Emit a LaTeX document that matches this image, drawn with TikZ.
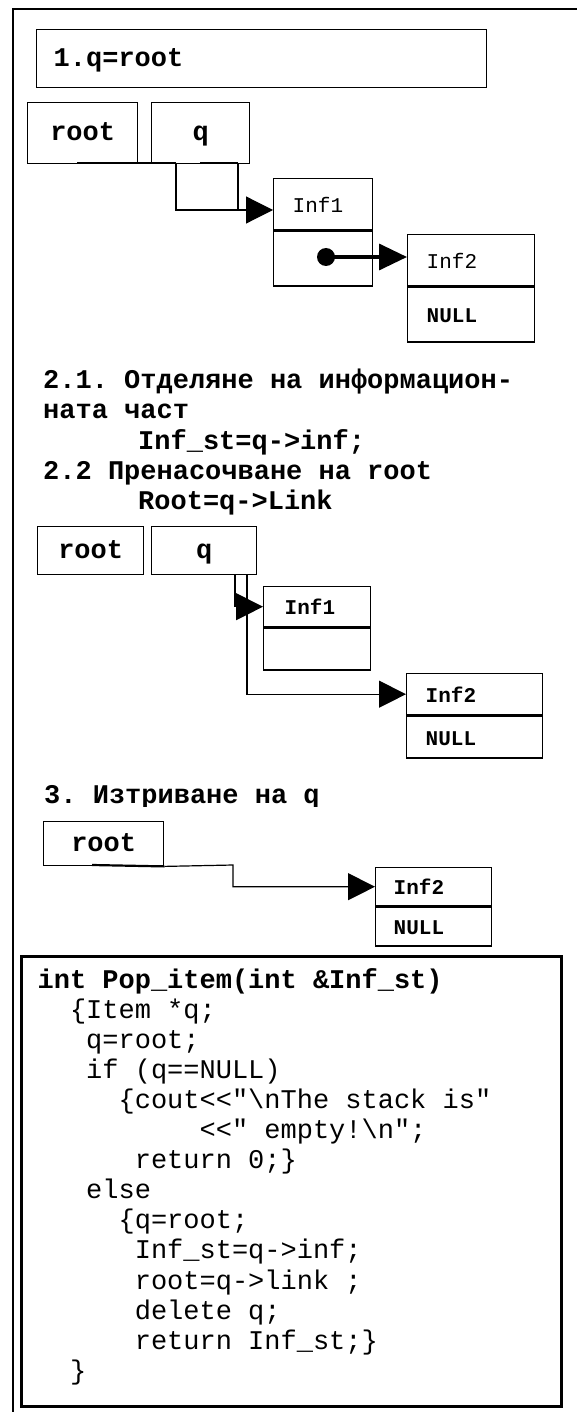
\documentclass[tikz,border=0pt]{standalone}
\usepackage{fontspec}
\setmonofont{Liberation Mono}
\usepackage{tikz}
\usetikzlibrary{arrows.meta,calc}

\newcommand{\codebf}{\ttfamily\bfseries\fontsize{27}{30}\selectfont}
\newcommand{\coderm}{\ttfamily\mdseries\fontsize{27}{30}\selectfont}
\newcommand{\cellbf}{\ttfamily\bfseries\fontsize{21}{24}\selectfont}
\newcommand{\cellrm}{\ttfamily\mdseries\fontsize{21}{24}\selectfont}

\tikzset{
  box/.style={draw, line width=1.4pt, anchor=north west, inner sep=0pt, text height=15pt, text depth=0pt, font=\codebf},
  cell/.style={draw, line width=1.4pt, anchor=north west, inner ysep=0pt, inner xsep=19pt, align=left, text height=16pt, text depth=0pt, font=\cellbf},
  txt/.style={anchor=base west, inner sep=0pt, font=\codebf},
  wire/.style={line width=1.2pt},
  headarrow/.style={-{Triangle[length=27pt,width=27pt]}},
}

\begin{document}
\begin{tikzpicture}[x=1pt,y=-1pt]
\useasboundingbox (0,0) rectangle (577,1412);

% outer frame (only top and left edges are in the picture)
\draw[line width=1.8pt] (12.8,1420) -- (12.8,9) -- (590,9);

% 1. q=root
\node[box, minimum width=450pt, minimum height=58pt, inner xsep=17pt, text width=416pt, align=left] (stepA) at (36,29) {1.q=root};
\node[box, minimum width=110pt, minimum height=61pt] (rootA) at (27,102) {root};
\node[box, minimum width=98pt, minimum height=61pt] (qA) at (151,102) {q};
\node[cell, minimum height=51pt, text width=61pt, font=\cellrm] (infA) at (273,178) {Inf1};
\node[cell, minimum height=55pt, text width=61pt] (linkA) at (infA.south west) {};
\node[cell, minimum height=51pt, text width=89pt, font=\cellrm] (infB) at (407,234) {Inf2};
\node[cell, minimum height=55pt, text width=89pt] (nullB) at (infB.south west) {NULL};
\node[circle, fill, inner sep=0pt, minimum size=18pt] (dotA) at (326,257) {};

\coordinate (qaL) at (176,163);
\coordinate (qaR) at (238,163);
\coordinate (qaT) at (238,210);
\draw[line width=2.4pt] (77,163) -- (qaL);
\draw[line width=2.4pt] (200,163) -- (qaR);
\draw[wire] (qaL) |- (qaT) -- (qaR);
\draw[wire, headarrow] (qaT) -- (qaT -| infA.west);
\draw[line width=3.5pt, -{Triangle[length=28pt,width=26pt]}] (dotA.center) -- (dotA -| infB.west);

% 2. text
\node[txt] (textA) at (43,388) {2.1. Отделяне на информацион-};
\node[txt] (textB) at (43,418.5) {ната част};
\node[txt] (textC) at (138,449) {Inf\_st=q->inf;};
\node[txt] (textD) at (43,479) {2.2 Пренасочване на root};
\node[txt] (textE) at (138,509) {Root=q->Link};

% 2. picture
\node[box, minimum width=106pt, minimum height=48pt] (rootB) at (37,526) {root};
\node[box, minimum width=105pt, minimum height=48pt] (qB) at (151,526) {q};
\node[cell, minimum height=40pt, inner xsep=21pt, text width=65pt] (infC) at (263,586) {Inf1};
\node[cell, minimum height=42pt, inner xsep=21pt, text width=65pt] (linkC) at (infC.south west) {};
\node[cell, minimum height=41pt, text width=98pt] (infD) at (406,673) {Inf2};
\node[cell, minimum height=42pt, text width=98pt] (nullD) at (infD.south west) {NULL};

\coordinate (qbL) at (235,574);
\coordinate (qbR) at (247,574);
\draw[wire, headarrow] (qbL) |- (infC.west);
\draw[wire, headarrow] (qbR) |- (infD.west);

% 3. delete q
\begin{scope}
  \clip (0,780) rectangle (577,806);
  \node[txt] (textF) at (44,803) {3. Изтриване на q};
\end{scope}
\node[box, minimum width=120pt, minimum height=44pt] (rootC) at (43,821) {root};
\node[cell, minimum height=38pt, inner xsep=18pt, text width=80pt] (infF) at (375,867) {Inf2};
\node[cell, minimum height=39pt, inner xsep=18pt, text width=80pt] (nullF) at (infF.south west) {NULL};

\coordinate (rcT) at (233,865);
\draw[line width=2.2pt] (92,865) -- (rootC.south east);
\draw[wire, headarrow] (rootC.south east) -- (rcT) |- (infF.west);

% code
\node[draw, line width=2.6pt, anchor=north west, inner sep=0pt, minimum width=540pt, minimum height=450pt] (code) at (20,955) {};
\node[txt] (codeA) at (37.4,988) {int Pop\_item(int \&Inf\_st)};
\node[txt, font=\coderm] (codeB) at (69.8,1018.1) {\{Item *q;};
\node[txt, font=\coderm] (codeC) at (86,1048.2) {q=root;};
\node[txt, font=\coderm] (codeD) at (86,1078.3) {if (q==NULL)};
\node[txt, font=\coderm] (codeE) at (118.4,1108.4) {\{cout<<"\textbackslash nThe stack is"};
\node[txt, font=\coderm] (codeF) at (199.4,1138.5) {<<" empty!\textbackslash n";};
\node[txt, font=\coderm] (codeG) at (134.6,1168.6) {return 0;\}};
\node[txt, font=\coderm] (codeH) at (86,1198.7) {else};
\node[txt, font=\coderm] (codeI) at (118.4,1228.8) {\{q=root;};
\node[txt, font=\coderm] (codeJ) at (134.6,1258.9) {Inf\_st=q->inf;};
\node[txt, font=\coderm] (codeK) at (134.6,1289) {root=q->link ;};
\node[txt, font=\coderm] (codeL) at (134.6,1319.1) {delete q;};
\node[txt, font=\coderm] (codeM) at (134.6,1349.2) {return Inf\_st;\}};
\node[txt, font=\coderm] (codeN) at (69.8,1379.3) {\}};
\end{tikzpicture}
\end{document}
